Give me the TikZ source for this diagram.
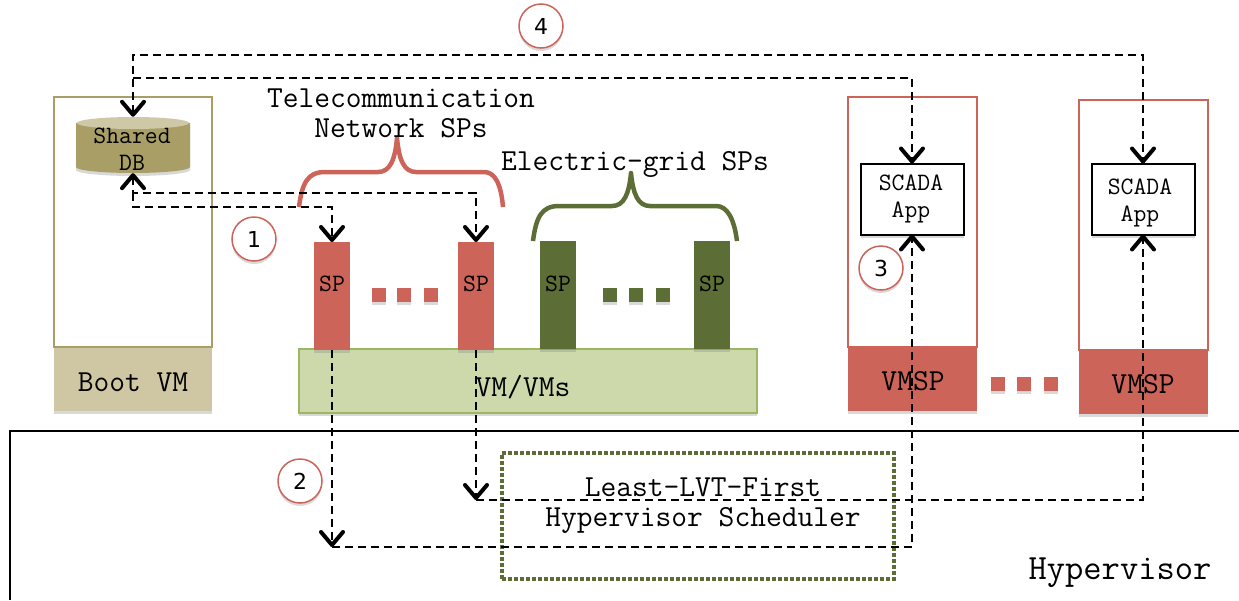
\documentclass[tikz,border=0pt]{standalone}
\usepackage{fontspec}
\usetikzlibrary{positioning,shadows,arrows.meta}

\definecolor{spred}{HTML}{CC6459}
\definecolor{spgreen}{HTML}{5C6E35}
\definecolor{vmgreen}{HTML}{CDD9AB}
\definecolor{vmedge}{HTML}{9DB660}
\definecolor{bootedge}{HTML}{A89E66}
\definecolor{bootfill}{HTML}{CFC7A3}
\definecolor{dbtop}{HTML}{CFC8A6}

\tikzset{
  softshadow/.style={drop shadow={shadow xshift=0pt,shadow yshift=-3pt,opacity=.3}},
  box/.style={rectangle,inner sep=0pt,outer sep=0pt,softshadow},
  ttbig/.style={font=\fontsize{30.6}{30}\selectfont\ttfamily,align=center,inner sep=0pt},
  ttsmall/.style={font=\fontsize{25}{27}\selectfont\ttfamily,align=center,inner sep=0pt},
  stepmark/.style={circle,draw=spred,fill=white,line width=1.5pt,minimum size=44pt,inner sep=0pt,
    font=\fontsize{22}{22}\selectfont\fontspec{DejaVu Sans},softshadow},
  sprect/.style={box,minimum width=36pt,minimum height=108pt},
  vmrect/.style={box,draw=spred,line width=2pt,fill=white,minimum width=129pt,minimum height=250pt},
  vmbase/.style={box,fill=spred,minimum width=129pt,minimum height=64pt},
  apprect/.style={box,draw=black,line width=2pt,fill=white,minimum width=103pt,minimum height=71pt},
  dot/.style={box,minimum size=13.5pt},
  brace/.style={line width=4.5pt,line cap=butt,line join=round},
  flow/.style={line width=1.8pt,dash pattern=on 8pt off 5pt},
  >={Straight Barb[length=13pt,width=22pt,line width=4pt 0,round]}
}

\begin{document}
\begin{tikzpicture}[x=1pt,y=-1pt]
  \useasboundingbox (0,0) rectangle (1239,600);

  % hypervisor
  \draw[line width=1.6pt] (10,600) -- (10,431) -- (1239,431);
  \node[inner sep=0pt,font=\fontsize{35.5}{35}\selectfont\ttfamily] (hypervisor) at (1120,573) {Hypervisor};
  \node[draw=spgreen,line width=4pt,dotted,minimum width=392pt,minimum height=126pt,inner sep=0pt] (scheduler) at (698,516) {};
  \node[ttbig] (schedtext) at (703,506) {Least-LVT-First\\Hypervisor Scheduler};

  % boot vm
  \node[box,draw=bootedge,line width=2pt,fill=white,minimum width=158pt,minimum height=250pt] (bootvm) at (133,222) {};
  \node[box,fill=bootfill,minimum width=158pt,minimum height=63pt] (boot) at (133,379) {};
  \node[ttbig] (boottext) at (133,382) {Boot VM};
  \fill[bootedge,softshadow] (76,123) -- (76,167) arc[start angle=180,end angle=0,x radius=57,y radius=6] -- (190,123) -- cycle;
  \fill[dbtop] (133,123) ellipse[x radius=56,y radius=6];
  \node[ttsmall,minimum width=114pt,minimum height=56pt] (db) at (133,145) {};
  \node[ttsmall] (dbtext) at (132,149) {Shared\\DB};

  % service providers
  \node[box,draw=vmedge,line width=2pt,fill=vmgreen,minimum width=458pt,minimum height=64pt] (vms) at (528,381) {};
  \node[ttbig] (vmstext) at (523,387) {VM/VMs};
  \node[sprect,fill=spred] (spA) at (332,296) {};
  \node[sprect,fill=spred] (spB) at (476,296) {};
  \node[sprect,fill=spgreen] (spC) at (558,295) {};
  \node[sprect,fill=spgreen] (spD) at (712,295) {};
  \node[ttsmall] (spAtext) at (332,284) {SP};
  \node[ttsmall] (spBtext) at (476,284) {SP};
  \node[ttsmall] (spCtext) at (558,284) {SP};
  \node[ttsmall] (spDtext) at (712,284) {SP};
  \foreach \i/\x in {1/379,2/404,3/431} \node[dot,fill=spred] (reddot\i) at (\x,295) {};
  \foreach \i/\x in {1/610,2/636,3/663} \node[dot,fill=spgreen] (greendot\i) at (\x,295) {};
  \foreach \i/\x in {1/998,2/1024,3/1051} \node[dot,fill=spred] (vmdot\i) at (\x,384) {};

  \draw[brace,spred] (299,207) .. controls (302,184) and (307,172) .. (325,172) -- (378,172)
    .. controls (390,172) and (395,160) .. (397,138) .. controls (399,160) and (404,172) .. (416,172)
    -- (484,172) .. controls (495,172) and (501,184) .. (503,207);
  \draw[brace,spgreen] (533,241) .. controls (536,218) and (541,206) .. (559,206) -- (612,206)
    .. controls (624,206) and (629,194) .. (631,173) .. controls (633,194) and (638,206) .. (650,206)
    -- (716,206) .. controls (727,206) and (734,218) .. (737,241);
  \node[ttbig] (telecom) at (401,113) {Telecommunication\\Network SPs};
  \node[ttbig] (electric) at (635,164) {Electric-grid SPs};

  % scada vms
  \node[vmrect] (vmA) at (912,222) {};
  \node[vmrect] (vmB) at (1143,225) {};
  \node[vmbase] (vmspA) at (912,379) {};
  \node[vmbase] (vmspB) at (1143,382) {};
  \node[ttbig] (vmspAtext) at (913,381) {VMSP};
  \node[ttbig] (vmspBtext) at (1143,384) {VMSP};
  \node[apprect] (scadaA) at (912,199) {};
  \node[apprect] (scadaB) at (1143,199) {};
  \node[ttsmall] (scadaAtext) at (911,199) {SCADA\\App};
  \node[ttsmall] (scadaBtext) at (1140,203) {SCADA\\App};

  % step marks
  \node[stepmark] (one) at (254,239) {1};
  \node[stepmark] (two) at (300,481) {2};
  \node[stepmark] (three) at (881,268) {3};
  \node[stepmark] (four) at (541,26) {4};

  % connectors
  \coordinate (outerL) at (133,55);
  \coordinate (outerR) at (1143,55);
  \coordinate (innerL) at (133,78);
  \coordinate (innerR) at (912,78);
  \coordinate (lowUp) at (133,193);
  \coordinate (lowUpR) at (476,193);
  \coordinate (lowDown) at (133,207);
  \coordinate (lowDownR) at (332,207);
  \coordinate (schedA) at (332,547);
  \coordinate (schedAR) at (912,547);
  \coordinate (schedB) at (476,500);
  \coordinate (schedBR) at (1143,500);

  \draw[flow,<->] (db.north) -- (outerL) -- (outerR) -- (scadaB.north);
  \draw[flow,->] (innerL) -- (innerR) -- (scadaA.north);
  \draw[flow,<->] (db.south) -- (lowUp) -- (lowUpR) -- (spB.north);
  \draw[flow,->] (lowUp) -- (lowDown) -- (lowDownR) -- (spA.north);
  \path[flow,->] (spA.south) edge (schedA)
                 (spB.south) edge (schedB);
  \draw[flow,->] (schedA) -- (schedAR) -- (scadaA.south);
  \draw[flow,->] (schedB) -- (schedBR) -- (scadaB.south);
\end{tikzpicture}
\end{document}
